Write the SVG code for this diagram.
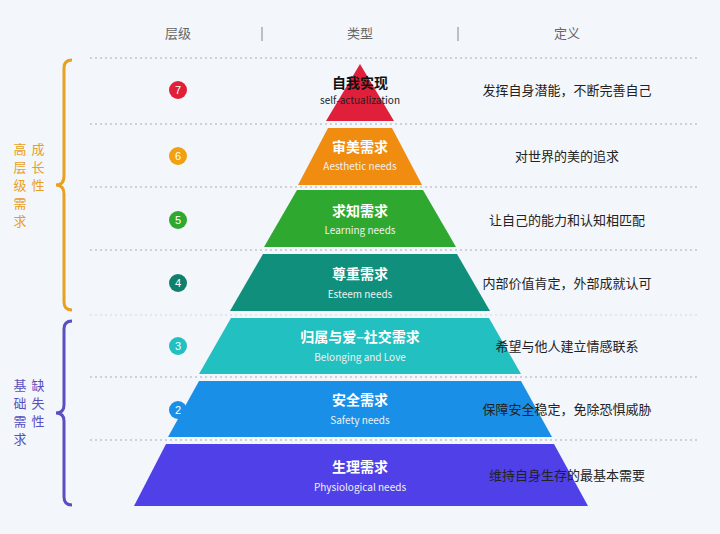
<svg xmlns="http://www.w3.org/2000/svg" width="720" height="534" viewBox="0 0 720 534">
<style>
text{font-family:"Noto Sans CJK SC","Liberation Sans",sans-serif}
.h{font-size:13px;fill:#666;text-anchor:middle}
.t{font-size:14px;fill:#fff;text-anchor:middle;font-weight:bold}
.e{font-size:10px;fill:#f0f0f0;text-anchor:middle}
.d{font-size:13px;fill:#222;text-anchor:middle}
.n{font-size:11px;fill:#fff;text-anchor:middle;font-family:"Liberation Sans",sans-serif}
.dash{stroke:#aab;stroke-width:1;stroke-dasharray:2 3}
.sl{font-size:13px;text-anchor:middle}
</style>
<rect width="720" height="534" fill="#f3f6fb"/>
<g id="header">
<text class="h" x="178" y="38">层级</text><text class="h" x="360" y="38">类型</text><text class="h" x="567" y="38">定义</text>
<line x1="262" y1="27" x2="262" y2="41" stroke="#888"/><line x1="458" y1="27" x2="458" y2="41" stroke="#888"/>
</g>
<g id="connectors">
<line class="dash" x1="90" y1="58" x2="700" y2="58"/>
<line class="dash" x1="90" y1="124" x2="700" y2="124"/>
<line class="dash" x1="90" y1="187" x2="700" y2="187"/>
<line class="dash" x1="90" y1="250" x2="700" y2="250"/>
<line class="dash" x1="90" y1="315" x2="700" y2="315" opacity="0.4"/>
<line class="dash" x1="90" y1="377" x2="700" y2="377"/>
<line class="dash" x1="90" y1="440" x2="700" y2="440"/>
<path d="M72 60 Q64 60 64 68 V176 Q64 185 56 185 Q64 185 64 194 V302 Q64 310 72 310" fill="none" stroke="#e8a020" stroke-width="3"/>
<path d="M72 321 Q64 321 64 329 V405 Q64 413 56 413 Q64 413 64 421 V497 Q64 505 72 505" fill="none" stroke="#5a4fc0" stroke-width="3"/>
</g>
<g id="side-labels">
<g fill="#e8a020" class="sl"><text class="sl" x="20" y="154">高</text><text class="sl" x="20" y="172">层</text><text class="sl" x="20" y="190">级</text><text class="sl" x="20" y="208">需</text><text class="sl" x="20" y="226">求</text>
<text class="sl" x="38" y="154">成</text><text class="sl" x="38" y="172">长</text><text class="sl" x="38" y="190">性</text></g>
<g fill="#5a4fc0"><text class="sl" x="20" y="390">基</text><text class="sl" x="20" y="408">础</text><text class="sl" x="20" y="426">需</text><text class="sl" x="20" y="444">求</text>
<text class="sl" x="38" y="390">缺</text><text class="sl" x="38" y="408">失</text><text class="sl" x="38" y="426">性</text></g>
</g>
<g id="level7"><path d="M360 64 L394 121 L326 121 Z" fill="#e0203a"/><circle cx="178" cy="90" r="9" fill="#e0203a"/><text class="n" x="178" y="94">7</text>
<text x="360" y="88" font-size="14" font-weight="bold" text-anchor="middle" fill="#111">自我实现</text><text x="360" y="104" font-size="10" text-anchor="middle" fill="#222">self-actualization</text><text class="d" x="567" y="95">发挥自身潜能，不断完善自己</text></g>
<g id="level6"><path d="M328 128 L392 128 L422 185 L298 185 Z" fill="#f08c10"/><circle cx="178" cy="156" r="9" fill="#f0a010"/><text class="n" x="178" y="160">6</text>
<text class="t" x="360" y="152">审美需求</text><text class="e" x="360" y="170">Aesthetic needs</text><text class="d" x="567" y="161">对世界的美的追求</text></g>
<g id="level5"><path d="M297 190 L423 190 L456 247 L264 247 Z" fill="#2ea82e"/><circle cx="178" cy="220" r="9" fill="#2ea82e"/><text class="n" x="178" y="224">5</text>
<text class="t" x="360" y="216">求知需求</text><text class="e" x="360" y="234">Learning needs</text><text class="d" x="567" y="225">让自己的能力和认知相匹配</text></g>
<g id="level4"><path d="M263 254 L457 254 L490 311 L230 311 Z" fill="#10907c"/><circle cx="178" cy="283" r="9" fill="#10806c"/><text class="n" x="178" y="287">4</text>
<text class="t" x="360" y="279">尊重需求</text><text class="e" x="360" y="298">Esteem needs</text><text class="d" x="567" y="288">内部价值肯定，外部成就认可</text></g>
<g id="level3"><path d="M231 318 L489 318 L521 374 L199 374 Z" fill="#22c0c0"/><circle cx="178" cy="346" r="9" fill="#22c0c0"/><text class="n" x="178" y="350">3</text>
<text class="t" x="360" y="342" font-weight="normal">归属与爱–社交需求</text><text class="e" x="360" y="361">Belonging and Love</text><text class="d" x="567" y="351">希望与他人建立情感联系</text></g>
<g id="level2"><path d="M199 381 L521 381 L552 437 L168 437 Z" fill="#1a8fe8"/><circle cx="178" cy="410" r="9" fill="#1a8fe8"/><text class="n" x="178" y="414">2</text>
<text class="t" x="360" y="405" font-weight="normal">安全需求</text><text class="e" x="360" y="424">Safety needs</text><text class="d" x="567" y="414">保障安全稳定，免除恐惧威胁</text></g>
<g id="level1"><path d="M166 444 L554 444 L588 506 L134 506 Z" fill="#5040e8"/>
<text class="t" x="360" y="472">生理需求</text><text class="e" x="360" y="491">Physiological needs</text><text class="d" x="567" y="480">维持自身生存的最基本需要</text></g>
</svg>
